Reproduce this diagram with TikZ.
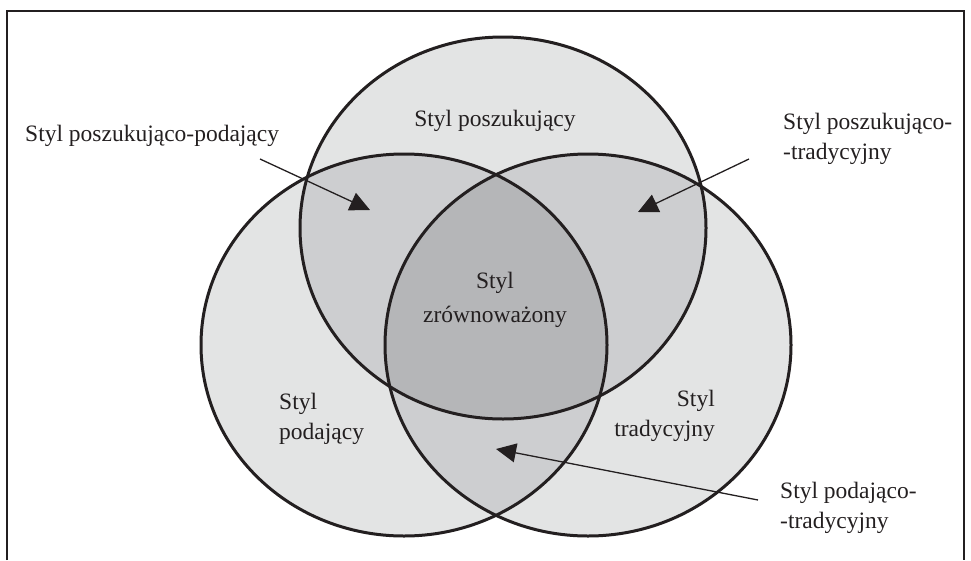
\documentclass[tikz,border=0pt]{standalone}
\usepackage{fontspec}
\setmainfont{Liberation Serif}
\usetikzlibrary{arrows.meta}
\definecolor{lightg}{RGB}{227,228,228}
\definecolor{midg}{RGB}{205,206,208}
\definecolor{darkg}{RGB}{181,182,184}
\definecolor{ink}{RGB}{35,31,32}
\begin{document}
\begin{tikzpicture}[x=1pt,y=-1pt,
  lbl/.style={font=\fontsize{23.5}{30}\selectfont, text=ink, inner sep=0pt},
  ring/.style={draw=ink, line width=3pt},
  pointer/.style={draw=ink, line width=1.3pt, -{Triangle[length=20pt,width=19pt]}}]
\useasboundingbox (0,0) rectangle (971,560);
\draw[ink, line width=1.5pt] (7,560) -- (7,11) -- (964,11) -- (964,560);
% fills
\def\EA{(503,228) ellipse [x radius=203, y radius=191]}
\def\EB{(404,345) ellipse [x radius=203, y radius=191]}
\def\EC{(588,345) ellipse [x radius=203, y radius=191]}
\fill[lightg] \EA; \fill[lightg] \EB; \fill[lightg] \EC;
\begin{scope}\clip \EA; \fill[midg] \EB; \fill[midg] \EC; \end{scope}
\begin{scope}\clip \EB; \fill[midg] \EC; \end{scope}
\begin{scope}\clip \EA; \clip \EB; \fill[darkg] \EC; \end{scope}
\draw[ring] \EA; \draw[ring] \EB; \draw[ring] \EC;
% labels
\node[lbl] (poszuk) at (495,121) {Styl poszukujący};
\node[lbl, align=center] (zrown) at (495,300) {Styl\\[4pt]zrównoważony};
\node[lbl, align=left, anchor=west] (podaj) at (279,419) {Styl\\podający};
\node[lbl, align=right, anchor=east] (trad) at (715,416) {Styl\\tradycyjny};
\node[lbl, anchor=west] (pp) at (25,136) {Styl poszukująco-podający};
\node[lbl, align=left, anchor=west] (pt) at (783,139) {Styl poszukująco-\\-tradycyjny};
\node[lbl, align=left, anchor=west] (pdt) at (780,508) {Styl podająco-\\-tradycyjny};
% arrows
\coordinate (pps) at (260,159);
\coordinate (ppt) at (370,210);
\coordinate (pts) at (749,159);
\coordinate (ptt) at (638,212);
\coordinate (pdts) at (758,500);
\coordinate (pdtt) at (496,449);
\draw[pointer] (pps) -- (ppt);
\draw[pointer] (pts) -- (ptt);
\draw[pointer] (pdts) -- (pdtt);
\end{tikzpicture}
\end{document}
